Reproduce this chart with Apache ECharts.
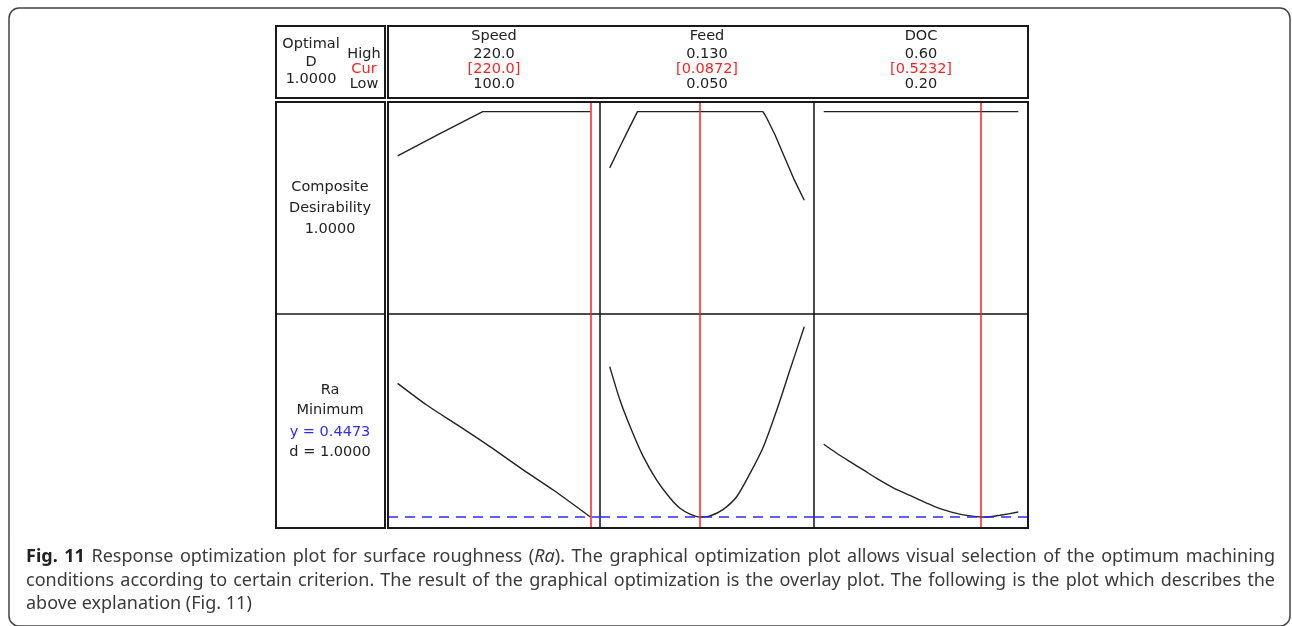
<!DOCTYPE html>
<html>
<head>
<meta charset="utf-8">
<script src="https://cdn.jsdelivr.net/npm/echarts@6/dist/echarts.min.js"></script>
<style>
  html, body { margin: 0; padding: 0; background: #fff; }
  #main { position: absolute; left: 0; top: 0; width: 1292px; height: 626px; }
  .caption { position: absolute; left: 26px; top: 544px; width: 1249px; font-family: 'Noto Sans', sans-serif; font-size: 18px; line-height: 23.5px; color: #3a3a3a; }
  .caption .line { display: block; white-space: nowrap; text-align: justify; text-align-last: justify; }
  .caption .last { text-align-last: left; }
  .caption b { color: #222; }
</style>
</head>
<body>
<div id="main"></div>
<div class="caption">
  <span class="line"><b>Fig. 11</b> Response optimization plot for surface roughness (<i>Ra</i>). The graphical optimization plot allows visual selection of the optimum machining</span>
  <span class="line">conditions according to certain criterion. The result of the graphical optimization is the overlay plot. The following is the plot which describes the</span>
  <span class="line last">above explanation (Fig. 11)</span>
</div>
<script>
  // factor settings
  const factors = ['Speed', 'Feed', 'DOC']
  const highLabels = ['220.0', '0.130', '0.60']
  const curLabels = ['[220.0]', '[0.0872]', '[0.5232]']
  const lowLabels = ['100.0', '0.050', '0.20']
  const lows = [100, 0.05, 0.2]
  const highs = [220, 0.13, 0.6]
  const curs = [220, 0.0872, 0.5232]

  const optimalLines = ['Optimal', 'D', '1.0000']
  const boundTags = ['High', 'Cur', 'Low']
  const desirLabels = ['Composite', 'Desirability', '1.0000']
  const raLabels = ['Ra', 'Minimum', 'y = 0.4473', 'd = 1.0000']
  const yOpt = 0.4473

  // composite desirability vs factor
  const speedD = [[100, 0.771], [126, 0.884], [153, 1.0], [220, 1.0]]
  const feedD = [[0.050, 0.708], [0.0542, 0.818], [0.0584, 0.925], [0.0614, 1.0], [0.1130, 1.0],
    [0.1146, 0.966], [0.1180, 0.879], [0.1215, 0.775], [0.1256, 0.654], [0.1300, 0.540]]
  const docD = [[0.2, 1.0], [0.6, 1.0]]

  // Ra vs factor
  const speedRa = [[100, 1.384], [118.1, 1.232], [138.8, 1.080], [157.5, 0.940], [178.2, 0.777],
    [196.9, 0.636], [220, 0.4473]]
  const feedRa = [[0.0500, 1.501], [0.0542, 1.267], [0.0584, 1.080], [0.0638, 0.870], [0.0693, 0.706],
    [0.0748, 0.580], [0.0789, 0.508], [0.0830, 0.468], [0.0872, 0.4473], [0.0912, 0.454],
    [0.0967, 0.501], [0.1022, 0.589], [0.1077, 0.753], [0.1132, 0.940], [0.1187, 1.197],
    [0.1241, 1.477], [0.1300, 1.781]]
  const docRa = [[0.20, 0.957], [0.2267, 0.894], [0.2540, 0.835], [0.2814, 0.777], [0.3089, 0.718],
    [0.3430, 0.652], [0.3774, 0.598], [0.4117, 0.545], [0.4323, 0.515], [0.4664, 0.478],
    [0.5008, 0.455], [0.5232, 0.4473], [0.5419, 0.449], [0.5624, 0.459], [0.60, 0.482]]

  const desirData = [speedD, feedD, docD]
  const raData = [speedRa, feedRa, docRa]

  const panelX = [388, 600, 814, 1028]
  const rowY = [102, 314, 528]
  const font = '14.5px "DejaVu Sans", sans-serif'
  const ink = '#222'
  const red = '#ff1f1f'
  const blue = '#2b2bff'

  let myChart = echarts.init(document.getElementById('main'))

  let grids = []
  let xAxes = []
  let yAxes = []
  let series = []

  for (let r = 0; r < 2; r++) {
    for (let c = 0; c < 3; c++) {
      let idx = r * 3 + c
      let pad = (highs[c] - lows[c]) * 0.05
      grids.push({
        left: panelX[c],
        top: rowY[r],
        width: panelX[c + 1] - panelX[c],
        height: rowY[r + 1] - rowY[r],
        show: true,
        borderColor: '#111',
        borderWidth: 1,
        backgroundColor: 'transparent'
      })
      xAxes.push({ type: 'value', gridIndex: idx, min: lows[c] - pad, max: highs[c] + pad, show: false })
      yAxes.push(r === 0
        ? { type: 'value', gridIndex: idx, min: -0.05, max: 1.05, show: false }
        : { type: 'value', gridIndex: idx, min: 0.37, max: 1.87, show: false })

      let marks = [{ xAxis: curs[c], lineStyle: { color: red, width: 1.5, type: 'solid' } }]
      if (r === 1) {
        marks.push({ yAxis: yOpt, lineStyle: { color: blue, width: 1.6, type: [10, 7] } })
      }
      series.push({
        type: 'line',
        xAxisIndex: idx,
        yAxisIndex: idx,
        data: r === 0 ? desirData[c] : raData[c],
        smooth: r === 0 ? false : 0.25,
        showSymbol: false,
        lineStyle: { color: ink, width: 1.4 },
        z: 3,
        markLine: {
          silent: true,
          symbol: 'none',
          precision: 4,
          label: { show: false },
          z: 4,
          data: marks
        }
      })
    }
  }

  const txt = (text, x, y, color, align) => ({
    type: 'text',
    x: x,
    y: y,
    z: 10,
    style: {
      text: text,
      fill: color || ink,
      font: font,
      align: align || 'center',
      verticalAlign: 'middle',
      textAlign: align || 'center',
      textVerticalAlign: 'middle'
    }
  })

  const box = (x1, y1, x2, y2, w) => ({
    type: 'rect',
    z: 5,
    shape: { x: x1, y: y1, width: x2 - x1, height: y2 - y1 },
    style: { fill: 'none', stroke: '#1a1a1a', lineWidth: w }
  })

  let graphics = [
    {
      type: 'rect',
      z: 1,
      shape: { x: 9, y: 8, width: 1281, height: 618, r: 10 },
      style: { fill: 'none', stroke: '#444', lineWidth: 1.5 }
    },
    box(276, 26, 385, 98, 2),
    box(388, 26, 1028, 98, 2),
    box(276, 102, 385, 528, 2),
    {
      type: 'line',
      z: 5,
      shape: { x1: 276, y1: 314, x2: 385, y2: 314 },
      style: { stroke: '#1a1a1a', lineWidth: 1.5 }
    },
    box(388, 102, 1028, 528, 2)
  ]

  const headY = [36, 54, 69, 84]
  factors.forEach((name, c) => {
    let cx = (panelX[c] + panelX[c + 1]) / 2
    graphics.push(txt(name, cx, headY[0]))
    graphics.push(txt(highLabels[c], cx, headY[1]))
    graphics.push(txt(curLabels[c], cx, headY[2], red))
    graphics.push(txt(lowLabels[c], cx, headY[3]))
  })

  const optY = [44, 62, 79]
  optimalLines.forEach((t, i) => graphics.push(txt(t, 311, optY[i])))
  const tagY = [54, 69, 84]
  boundTags.forEach((t, i) => graphics.push(txt(t, 364, tagY[i], i === 1 ? red : ink)))

  const desirY = [187.5, 208, 229]
  desirLabels.forEach((t, i) => graphics.push(txt(t, 330, desirY[i])))
  const raY = [390, 410.5, 432, 452.5]
  raLabels.forEach((t, i) => graphics.push(txt(t, 330, raY[i], i === 2 ? blue : ink)))

  let option = {
    animation: false,
    backgroundColor: '#fff',
    grid: grids,
    xAxis: xAxes,
    yAxis: yAxes,
    series: series,
    graphic: graphics
  }

  myChart.setOption(option)
</script>
</body>
</html>
